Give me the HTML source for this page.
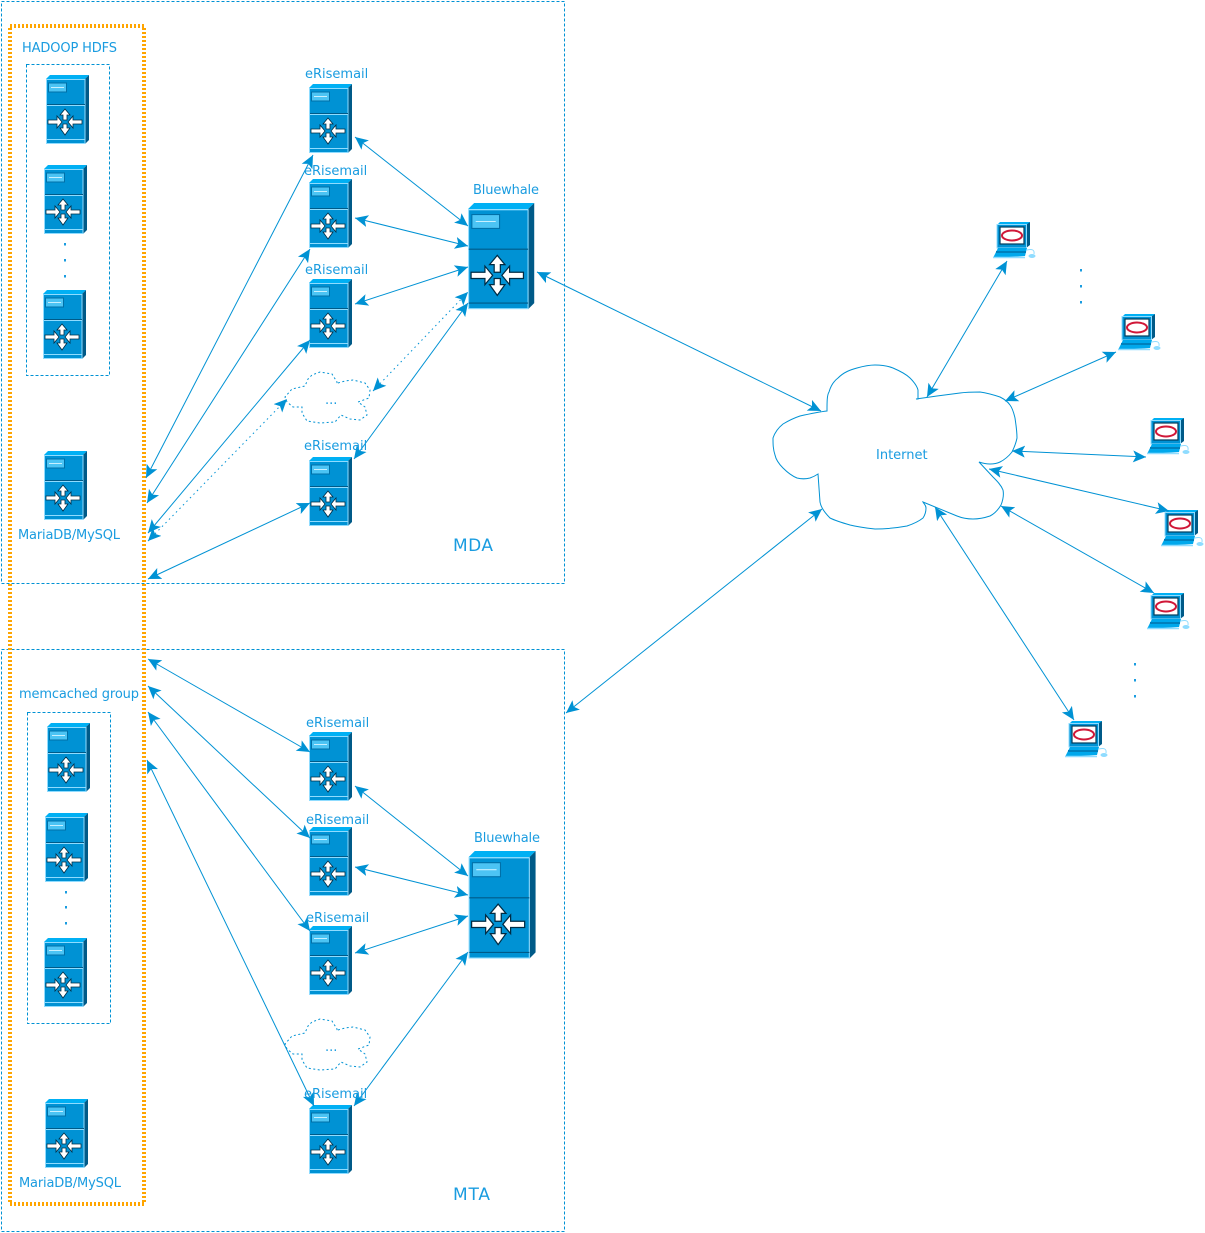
<!DOCTYPE html>
<html>
<head>
<meta charset="utf-8">
<style>
html,body{margin:0;padding:0;background:#fff;width:1205px;height:1233px;overflow:hidden}
svg{display:block}
text{font-family:"DejaVu Sans",sans-serif;fill:#1a9ce0;font-size:13px}
.c line{stroke:#0092d4;stroke-width:1;fill:none;marker-start:url(#a);marker-end:url(#a)}
.c line.d{stroke-dasharray:1.5 3.5}
.b rect{fill:none;stroke:#0092d4;stroke-width:1;stroke-dasharray:3 2;shape-rendering:crispEdges}
</style>
</head>
<body>
<svg width="1205" height="1233" viewBox="0 0 1205 1233" xmlns="http://www.w3.org/2000/svg">
<defs>
<marker id="a" markerUnits="userSpaceOnUse" markerWidth="15" markerHeight="14" refX="13" refY="6.500" orient="auto-start-reverse">
<path d="M13,6.500 L0,0.500 L3,6.500 L0,12.500Z" fill="#0092d4"/>
</marker>
<g id="ar" fill="#fff" stroke="#002c44" stroke-width="0.8">
<polygon points="0,-13 -5,-7 -2,-7 -2,-2 2,-2 2,-7 5,-7"/>
<polygon points="0,13 -5,6 -2,6 -2,2 2,2 2,6 5,6"/>
<polygon points="-17,-2 -8,-2 -8,-6 -3,0 -8,6 -8,2 -17,2"/>
<polygon points="17,-2 8,-2 8,-6 3,0 8,6 8,2 17,2"/>
</g>
<g id="srv">
<polygon points="0,4 4,0 43,0 39,4" fill="#00b0f4"/>
<polygon points="39,4 43,0 43,65 39,69" fill="#005a88"/>
<rect x="0.500" y="4.500" width="38.500" height="64" fill="#0092d4" stroke="#8fdcff" stroke-width="1"/>
<line x1="1" y1="29.500" x2="39" y2="29.500" stroke="#005a88"/>
<line x1="1" y1="30.500" x2="39" y2="30.500" stroke="#8fdcff"/>
<line x1="1" y1="64.500" x2="39" y2="64.500" stroke="#8fdcff"/>
<rect x="2.500" y="8" width="18" height="9" fill="#4cc4f4" stroke="#0070a8" stroke-width="1"/>
<line x1="5" y1="12.500" x2="18" y2="12.500" stroke="#c8f0ff"/>
<use href="#ar" x="19" y="47"/>
</g>
<g id="srvb">
<polygon points="0,4 4,0 43,0 39,4" fill="#00b0f4"/>
<polygon points="39,4 43,0 43,65 39,69" fill="#005a88"/>
<rect x="0.400" y="4.400" width="38.600" height="64.200" fill="#0092d4" stroke="#8fdcff" stroke-width="0.7"/>
<line x1="0.500" y1="30" x2="39" y2="30" stroke="#005a88" stroke-width="0.7"/>
<line x1="0.500" y1="65" x2="39" y2="65" stroke="#005a88" stroke-width="0.7"/>
<rect x="2.500" y="7.500" width="18" height="9" fill="#4cc4f4" stroke="#0070a8" stroke-width="0.7"/>
<line x1="5" y1="12" x2="18" y2="12" stroke="#c8f0ff" stroke-width="0.7"/>
<use href="#ar" x="19" y="47"/>
</g>
<g id="pc">
<polygon points="4,4 7,1 37,1 34,4" fill="#00b0f4"/>
<polygon points="33,4 37,1 37,24 33,27" fill="#005a88"/>
<rect x="4" y="3.500" width="29.500" height="23.500" fill="#0092d4" stroke="#8fdcff" stroke-width="1"/>
<rect x="7" y="6" width="24" height="17" fill="#fff" stroke="#003c5c" stroke-width="1.200"/>
<ellipse cx="19" cy="14.500" rx="10" ry="5" fill="none" stroke="#d01838" stroke-width="2"/>
<polygon points="5,27 34,27 32,35 0,37 1,35" fill="#00a8ec"/>
<line x1="0" y1="36.500" x2="32" y2="36.500" stroke="#8fdcff" stroke-width="1.500"/>
<line x1="3" y1="31" x2="33" y2="31" stroke="#0080bc" stroke-width="2"/>
<path d="M34,29 Q42,27 41,33" fill="none" stroke="#8fdcff"/>
<ellipse cx="39" cy="35" rx="3.500" ry="2" fill="#8fdcff"/>
</g>
<polyline id="sc" fill="none" stroke="#0092d4" stroke-width="1" stroke-dasharray="2 2.500" points="338,383 345,381 353,380 365,383 370,390 369,398 358,402 365,407 367,415 360,420 350,419 341,415 335,422 320,423 307,421 302,413 302,407 293,407 287,402 285,397 292,389 305,386 308,379 312,375 320,372 332,374 337,382 337,384"/>
</defs>

<g class="b">
<rect x="1.500" y="1.500" width="563" height="582"/>
<rect x="1.500" y="649.500" width="563" height="582"/>
<rect x="26.500" y="64.500" width="83" height="311"/>
<rect x="27.500" y="712.500" width="83" height="311"/>
</g>

<rect x="10" y="26" width="134" height="1178" fill="none" stroke="#ffa500" stroke-width="4" stroke-dasharray="2 2" shape-rendering="crispEdges"/>

<use href="#srv" x="46" y="75"/>
<use href="#srv" x="44" y="165"/>
<use href="#srv" x="43" y="290"/>
<use href="#srv" x="44" y="451"/>
<use href="#srv" x="309" y="84"/>
<use href="#srv" x="309" y="179"/>
<use href="#srv" x="309" y="279"/>
<use href="#srv" x="309" y="457"/>
<use href="#srv" x="47" y="723"/>
<use href="#srv" x="45" y="813"/>
<use href="#srv" x="44" y="938"/>
<use href="#srv" x="45" y="1099"/>
<use href="#srv" x="309" y="732"/>
<use href="#srv" x="309" y="827"/>
<use href="#srv" x="309" y="926"/>
<use href="#srv" x="309" y="1105"/>
<use href="#srvb" transform="translate(468,203) scale(1.54)"/>
<use href="#srvb" transform="translate(468.500,851) scale(1.56)"/>

<use href="#pc" x="993" y="221"/>
<use href="#pc" x="1118" y="313"/>
<use href="#pc" x="1147" y="417"/>
<use href="#pc" x="1161" y="509"/>
<use href="#pc" x="1147" y="592"/>
<use href="#pc" x="1065" y="720"/>

<use href="#sc"/>
<use href="#sc" y="647"/>

<path fill="none" stroke="#0092d4" stroke-width="1" d="M827,411 C827,402 827,395 829,392 C831,385 834,381 838,378 C844,372 850,370 857,368 C864,366 869,365 875,365 C882,365 888,366 893,368 C900,371 906,374 910,378 C914,382 917,386 918,390 L918,399 L916,399 C923,398 930,397 937,396 C945,395 952,394 960,393 C967,392 973,392 980,392 C987,393 994,395 1000,397 C1004,399 1008,402 1010,405 C1013,409 1014,414 1015,418 C1016,425 1017,431 1017,438 C1016,443 1014,448 1012,452 C1008,457 1004,460 1000,462 C996,464 993,464 990,464 C986,464 982,463 979,462 L993,477 C997,481 1001,485 1003,490 C1004,495 1003,500 1001,505 C998,510 994,514 990,516 C984,518 979,519 973,519 C967,519 962,518 957,516 L923,502 C924,504 926,505 926,508 C926,512 925,515 923,518 C918,522 913,524 907,526 C896,528 886,529 875,529 C866,528 858,527 850,525 C843,523 836,521 830,518 C825,513 821,508 820,502 L818,474 C815,476 813,477 810,478 C806,479 801,479 797,478 C792,476 787,472 783,468 C779,464 776,460 775,455 C773,449 773,444 773,438 C775,432 778,428 783,424 C788,421 794,418 800,416 C809,414 818,412 827,411Z"/>

<g class="c">
<line x1="146" y1="478" x2="313" y2="155"/>
<line x1="147" y1="503" x2="310" y2="249"/>
<line x1="148" y1="533" x2="310" y2="340"/>
<line class="d" x1="148" y1="541" x2="287" y2="399"/>
<line x1="148" y1="579" x2="310" y2="503"/>
<line x1="355" y1="137" x2="468" y2="226"/>
<line x1="355" y1="218" x2="468" y2="246"/>
<line x1="355" y1="304" x2="468" y2="267"/>
<line class="d" x1="373" y1="391" x2="468" y2="292"/>
<line x1="354" y1="459" x2="468" y2="303"/>
<line x1="537" y1="272" x2="821" y2="411"/>
<line x1="566" y1="713" x2="822" y2="509"/>
<line x1="927" y1="397" x2="1007" y2="261"/>
<line x1="1005" y1="401" x2="1116" y2="352"/>
<line x1="1012" y1="451" x2="1146" y2="457"/>
<line x1="989" y1="469" x2="1169" y2="511"/>
<line x1="1001" y1="506" x2="1154" y2="593"/>
<line x1="935" y1="507" x2="1074" y2="720"/>
<line x1="148" y1="659" x2="310" y2="752"/>
<line x1="148" y1="686" x2="310" y2="838"/>
<line x1="148" y1="712" x2="310" y2="931"/>
<line x1="147" y1="760" x2="314" y2="1106"/>
<line x1="355" y1="786" x2="468" y2="876"/>
<line x1="355" y1="867" x2="468" y2="895"/>
<line x1="355" y1="953" x2="468" y2="916"/>
<line x1="354" y1="1106" x2="468" y2="952"/>
</g>

<text x="22" y="52" textLength="95">HADOOP HDFS</text>
<text x="18" y="539" textLength="102">MariaDB/MySQL</text>
<text x="19" y="698" textLength="120">memcached group</text>
<text x="19" y="1187" textLength="102">MariaDB/MySQL</text>
<text x="305" y="78">eRisemail</text>
<text x="304" y="175">eRisemail</text>
<text x="305" y="274">eRisemail</text>
<text x="304" y="450">eRisemail</text>
<text x="306" y="727">eRisemail</text>
<text x="306" y="824">eRisemail</text>
<text x="306" y="922">eRisemail</text>
<text x="304" y="1098">eRisemail</text>
<text x="473" y="194" textLength="66">Bluewhale</text>
<text x="474" y="842" textLength="66">Bluewhale</text>
<text x="453" y="551" style="font-size:17px" textLength="40">MDA</text>
<text x="453" y="1200" style="font-size:17px" textLength="37">MTA</text>
<text x="876" y="459">Internet</text>
<text x="325" y="404">...</text>
<text x="325" y="1051">...</text>
<g fill="#1a9ce0">
<rect x="64" y="243" width="2" height="2.500"/><rect x="64" y="259" width="2" height="2.500"/><rect x="64" y="275" width="2" height="2.500"/>
<rect x="65" y="891" width="2" height="2.500"/><rect x="65" y="906" width="2" height="2.500"/><rect x="65" y="922" width="2" height="2.500"/>
<rect x="1080" y="269" width="2" height="2.500"/><rect x="1080" y="285" width="2" height="2.500"/><rect x="1080" y="301" width="2" height="2.500"/>
<rect x="1134" y="663" width="2" height="2.500"/><rect x="1134" y="679" width="2" height="2.500"/><rect x="1134" y="695" width="2" height="2.500"/>
</g>
</svg>
</body>
</html>
